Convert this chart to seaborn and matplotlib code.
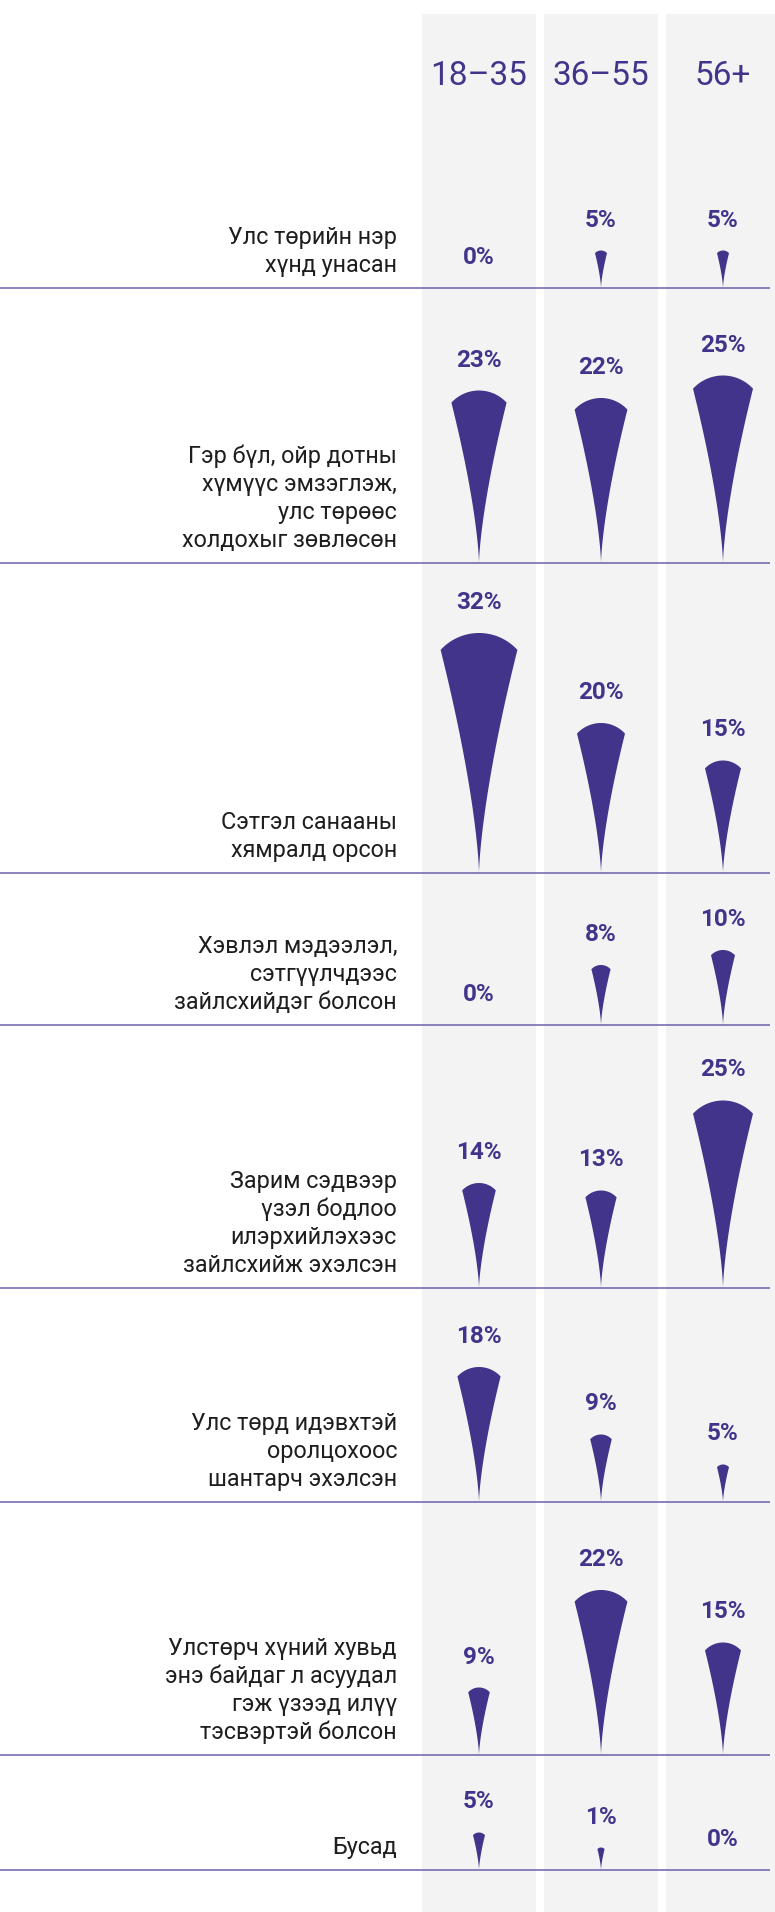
import numpy as np
import matplotlib
matplotlib.use("Agg")
import matplotlib.pyplot as plt
import seaborn as sns

# ---- data -------------------------------------------------------------
age_groups = ["18–35", "36–55", "56+"]

reasons = [
    "Улс төрийн нэр\nхүнд унасан",
    "Гэр бүл, ойр дотны\nхүмүүс эмзэглэж,\nулс төрөөс\nхолдохыг зөвлөсөн",
    "Сэтгэл санааны\nхямралд орсон",
    "Хэвлэл мэдээлэл,\nсэтгүүлчдээс\nзайлсхийдэг болсон",
    "Зарим сэдвээр\nүзэл бодлоо\nилэрхийлэхээс\nзайлсхийж эхэлсэн",
    "Улс төрд идэвхтэй\nоролцохоос\nшантарч эхэлсэн",
    "Улстөрч хүний хувьд\nэнэ байдаг л асуудал\nгэж үзээд илүү\nтэсвэртэй болсон",
    "Бусад",
]

pct_18_35 = [0, 23, 32, 0, 14, 18, 9, 5]
pct_36_55 = [5, 22, 20, 8, 13, 9, 22, 1]
pct_56_up = [5, 25, 15, 10, 25, 5, 15, 0]

# ---- layout -----------------------------------------------------------
W_PX, H_PX = 775, 1912
row_baselines = [288, 563, 873, 1025, 1288, 1502, 1755, 1870]
col_centers = [479, 601, 723]
col_halfwidth = 57
col_top = 14
label_right = 397
line_step = 28
px_per_pct = 7.5
min_pct = 3.0  # smallest visible drop size

PURPLE = "#42348a"
RULE = "#6a60ad"
BAND = "#f3f3f3"
TEXT = "#1e1e1e"

sns.set_theme(style="white")
plt.rcParams["font.family"] = ["Roboto", "DejaVu Sans"]

fig = plt.figure(figsize=(W_PX / 100, H_PX / 100), dpi=100)
ax = fig.add_axes([0, 0, 1, 1])
ax.set_xlim(0, W_PX)
ax.set_ylim(H_PX, 0)
ax.axis("off")


def drop_outline(cx, base, value):
    """Outline of a drop: concave sides meeting at the base, arched cap."""
    h = max(value, min_pct) * px_per_pct
    w = 0.32 * h
    sag = 0.22 * w
    hc = h - sag
    t = np.linspace(0, 1, 80)
    rx = cx + (w / 2) * t ** 1.45
    ry = base - hc * t
    r = ((w / 2) ** 2 + sag ** 2) / (2 * sag)
    a0 = np.arcsin((w / 2) / r)
    th = np.linspace(a0, -a0, 60)
    capx = cx + r * np.sin(th)
    capy = (base - h + r) - r * np.cos(th)
    lx = (2 * cx - rx)[::-1]
    ly = ry[::-1]
    xs = np.concatenate([rx, capx, lx])
    ys = np.concatenate([ry, capy, ly])
    return xs, ys, h


# grey column bands and header labels
for cx, grp in zip(col_centers, age_groups):
    ax.axvspan(cx - col_halfwidth, cx + col_halfwidth,
               ymin=0, ymax=1 - col_top / H_PX, color=BAND, lw=0, zorder=0)
    ax.text(cx, 85, grp, ha="center", va="baseline", fontsize=24,
            color=PURPLE, fontweight="normal")

series = [pct_18_35, pct_36_55, pct_56_up]

for i, (reason, base) in enumerate(zip(reasons, row_baselines)):
    ax.plot([0, 770], [base, base], color=RULE, lw=1.1, zorder=1,
            solid_capstyle="butt")
    lines = reason.split("\n")
    for k, line in enumerate(reversed(lines)):
        ax.text(label_right, base - 16 - k * line_step, line,
                ha="right", va="baseline", fontsize=16.8,
                color=TEXT, fontweight="normal")
    for cx, vals in zip(col_centers, series):
        v = vals[i]
        top = base
        if v > 0:
            xs, ys, h = drop_outline(cx, base, v)
            ax.fill(xs, ys, color=PURPLE, lw=0, zorder=2)
            top = base - h
        ax.text(cx, top - 24, f"{v}%", ha="center", va="baseline",
                fontsize=17.5, color=PURPLE, fontweight="semibold")

fig.savefig("out.png", dpi=100, facecolor="white")
